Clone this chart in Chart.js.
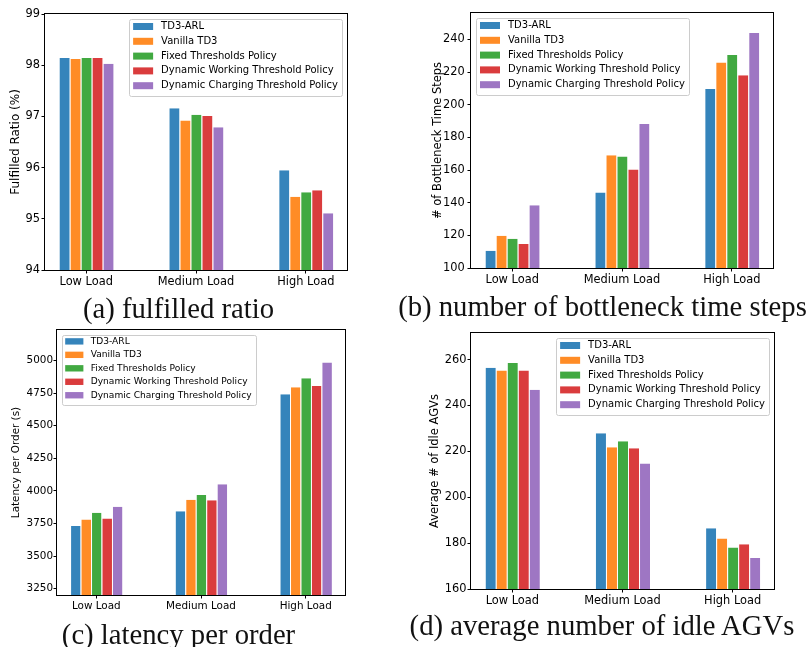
<!DOCTYPE html>
<html>
<head>
<meta charset="utf-8">
<script src="https://cdn.jsdelivr.net/npm/chart.js@4.4.1/dist/chart.umd.min.js"></script>
<style>
  html, body { margin: 0; padding: 0; background: #fff; }
  #fig { position: relative; width: 811px; height: 647px; overflow: hidden; }
  #fig canvas { position: absolute; left: 0; top: 0; }
  .cap {
    position: absolute;
    font-family: "Liberation Serif", serif;
    font-size: 28.7px;
    line-height: 1;
    white-space: nowrap;
    transform: translateX(-50%);
    color: #111;
  }
</style>
</head>
<body>
<div id="fig">
  <canvas id="chartA" width="811" height="647"></canvas>
  <canvas id="chartB" width="811" height="647"></canvas>
  <canvas id="chartC" width="811" height="647"></canvas>
  <canvas id="chartD" width="811" height="647"></canvas>
  <div class="cap" style="left:178.5px; top:294px;">(a) fulfilled ratio</div>
  <div class="cap" style="left:602.5px; top:292px;">(b) number of bottleneck time steps</div>
  <div class="cap" style="left:178.5px; top:620px;">(c) latency per order</div>
  <div class="cap" style="left:602px; top:611px;">(d) average number of idle AGVs</div>
</div>
<script>
// categories on the x axis and the five compared policies
const categories = ['Low Load', 'Medium Load', 'High Load'];
const policies = [
  'TD3-ARL',
  'Vanilla TD3',
  'Fixed Thresholds Policy',
  'Dynamic Working Threshold Policy',
  'Dynamic Charging Threshold Policy'
];
// tab10 colours at alpha 0.9
const policyColors = [
  'rgba(31, 119, 180, 0.9)',
  'rgba(255, 127, 14, 0.9)',
  'rgba(44, 160, 44, 0.9)',
  'rgba(214, 39, 40, 0.9)',
  'rgba(148, 103, 189, 0.9)'
];

// one row per policy, one value per load level
const fulfilledRatio = [
  [98.14, 97.16, 95.95],
  [98.12, 96.92, 95.43],
  [98.14, 97.03, 95.52],
  [98.14, 97.01, 95.56],
  [98.03, 96.79, 95.11]
];
const bottleneckSteps = [
  [110.6, 146.3, 209.6],
  [119.8, 169.1, 225.9],
  [117.9, 168.3, 230.4],
  [114.7, 160.3, 218.0],
  [138.5, 188.2, 243.9]
];
const latencyPerOrder = [
  [3730, 3844, 4742],
  [3781, 3933, 4796],
  [3832, 3969, 4865],
  [3788, 3928, 4806],
  [3878, 4051, 4985]
];
const idleAgvs = [
  [256.4, 227.9, 186.5],
  [255.2, 221.8, 182.0],
  [258.5, 224.4, 178.1],
  [255.2, 221.4, 179.5],
  [246.9, 214.7, 173.5]
];

// y tick labels of each panel
const ticksA = [94, 95, 96, 97, 98, 99];
const ticksB = [100, 120, 140, 160, 180, 200, 220, 240];
const ticksC = [3250, 3500, 3750, 4000, 4250, 4500, 4750, 5000];
const ticksD = [160, 180, 200, 220, 240, 260];

const FIG_W = 811, FIG_H = 647;

Chart.defaults.font.family = '"DejaVu Sans", sans-serif';
Chart.defaults.color = '#000';

// black box round the plot area, like matplotlib spines
const axesFrame = {
  id: 'axesFrame',
  afterDatasetsDraw(chart) {
    const { ctx, chartArea: a } = chart;
    ctx.save();
    ctx.strokeStyle = '#000';
    ctx.lineWidth = 1;
    ctx.strokeRect(Math.round(a.left) - 0.5, Math.round(a.top) - 0.5,
      Math.round(a.right - a.left) + 1, Math.round(a.bottom - a.top) + 1);
    ctx.restore();
  }
};

// legend drawn inside the axes (upper left / upper right)
const insideLegend = {
  id: 'insideLegend',
  afterDraw(chart, args, opts) {
    const { ctx, chartArea: a } = chart;
    const fs = opts.fontSize;
    const items = chart.data.datasets;
    ctx.save();
    ctx.font = fs + 'px "DejaVu Sans"';
    const textW = Math.max(...items.map(d => ctx.measureText(d.label).width));
    const w = fs * 3.6 + textW;
    const h = fs * 7.7;
    const x = opts.corner === 'ur' ? a.right - fs * 0.5 - w : a.left + fs * 0.5;
    const y = a.top + fs * 0.5;
    ctx.beginPath();
    ctx.roundRect(Math.round(x) + 0.5, Math.round(y) + 0.5, Math.round(w), Math.round(h), fs * 0.2);
    ctx.fillStyle = 'rgba(255, 255, 255, 0.8)';
    ctx.fill();
    ctx.strokeStyle = '#cccccc';
    ctx.lineWidth = 1;
    ctx.stroke();
    ctx.textBaseline = 'middle';
    ctx.textAlign = 'left';
    items.forEach((d, i) => {
      const cy = y + fs * (0.75 + 1.48 * i);
      ctx.fillStyle = d.backgroundColor;
      ctx.fillRect(x + fs * 0.4, cy - fs * 0.35, fs * 2, fs * 0.7);
      ctx.fillStyle = '#000';
      ctx.fillText(d.label, x + fs * 3.2, cy);
    });
    ctx.restore();
  }
};

function makeChart(canvasId, values, opt) {
  return new Chart(document.getElementById(canvasId), {
    type: 'bar',
    data: {
      datasets: policies.map((label, i) => ({
        label,
        data: values[i].map((y, k) => ({ x: k, y })),
        backgroundColor: policyColors[i],
        borderColor: '#ffffff',
        borderWidth: { left: 1, right: 0, top: 0, bottom: 0 },
        barPercentage: 1,
        categoryPercentage: 0.5
      }))
    },
    options: {
      responsive: false,
      animation: false,
      layout: { padding: { left: opt.padLeft, top: opt.top, right: FIG_W - opt.right, bottom: 0 } },
      plugins: {
        legend: { display: false },
        tooltip: { enabled: false },
        insideLegend: { corner: opt.corner, fontSize: opt.legendFont }
      },
      scales: {
        x: {
          type: 'linear',
          min: -0.375,
          max: 2.375,
          offset: false,
          grid: { display: true, drawOnChartArea: false, drawTicks: true, tickLength: 3.5, tickColor: '#000', offset: false },
          border: { display: false },
          ticks: {
            font: { size: opt.tickFont },
            color: '#000',
            padding: opt.xPad,
            maxRotation: 0,
            autoSkip: false,
            callback: v => categories[v]
          },
          afterBuildTicks: s => { s.ticks = categories.map((c, i) => ({ value: i })); },
          afterFit: s => { s.height = FIG_H - opt.bottom; }
        },
        y: {
          type: 'linear',
          min: opt.yMin,
          max: opt.yMax,
          grid: { display: true, drawOnChartArea: false, drawTicks: true, tickLength: 3.5, tickColor: '#000' },
          border: { display: false },
          ticks: {
            font: { size: opt.tickFont },
            color: '#000',
            padding: opt.tickPad,
            callback: v => String(v)
          },
          title: {
            display: true,
            text: opt.yTitle,
            color: '#000',
            font: { size: opt.titleFont },
            padding: { top: opt.titlePad, bottom: 0 }
          },
          afterBuildTicks: s => { s.ticks = opt.yTicks.map(v => ({ value: v })); },
          afterFit: s => { s.width = opt.left - opt.padLeft; }
        }
      }
    },
    plugins: [axesFrame, insideLegend]
  });
}

makeChart('chartA', fulfilledRatio, {
  padLeft: 0, left: 45, right: 347, top: 14, bottom: 270,
  yMin: 94, yMax: 99, yTicks: ticksA, yTitle: 'Fulfilled Ratio (%)',
  tickFont: 11.4, titleFont: 12, titlePad: 8.5, tickPad: 1.5, xPad: 2,
  legendFont: 10, corner: 'ur'
});
makeChart('chartB', bottleneckSteps, {
  padLeft: 400, left: 471, right: 773, top: 13, bottom: 268,
  yMin: 100, yMax: 256.2, yTicks: ticksB, yTitle: '# of Bottleneck Time Steps',
  tickFont: 11.4, titleFont: 11.5, titlePad: 31.4, tickPad: 2.8, xPad: 1.5,
  legendFont: 10, corner: 'ul'
});
makeChart('chartC', latencyPerOrder, {
  padLeft: 0, left: 57, right: 345, top: 330, bottom: 595,
  yMin: 3201, yMax: 5235, yTicks: ticksC, yTitle: 'Latency per Order (s)',
  tickFont: 10.4, titleFont: 10.4, titlePad: 10.5, tickPad: 0.5, xPad: 1.5,
  legendFont: 9.1, corner: 'ul'
});
makeChart('chartD', idleAgvs, {
  padLeft: 400, left: 471, right: 774, top: 333, bottom: 589,
  yMin: 160, yMax: 271.6, yTicks: ticksD, yTitle: 'Average # of Idle AGVs',
  tickFont: 11.4, titleFont: 11.5, titlePad: 28.4, tickPad: 1.1, xPad: 2.2,
  legendFont: 10, corner: 'ur'
});
</script>
</body>
</html>
